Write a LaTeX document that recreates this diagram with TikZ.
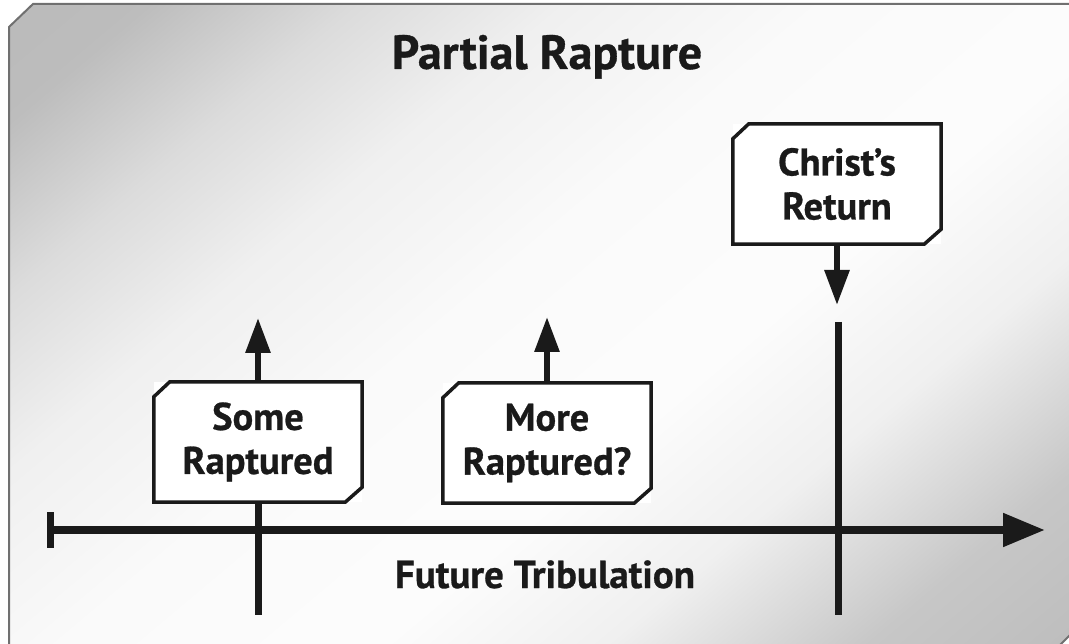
\documentclass[tikz,border=0pt]{standalone}
\usepackage{fontspec}
\setmainfont{PT Sans}[BoldFeatures={FakeBold=0.7}]
\usetikzlibrary{arrows.meta}
\definecolor{ink}{HTML}{1A1A1A}
\definecolor{framec}{HTML}{707070}
\pgfdeclarehorizontalshading{metal}{100bp}{color(0bp)=(black!30); color(20bp)=(black!26); color(28bp)=(black!14); color(36bp)=(black!6); color(46bp)=(black!2); color(58bp)=(black!1); color(67bp)=(black!6); color(77bp)=(black!22); color(100bp)=(black!33)}
\tikzset{
  boxnode/.style={minimum width=208pt, minimum height=120pt, inner sep=0pt, align=center, fill=white,
    font=\bfseries\fontsize{38.5}{44}\selectfont, text=ink},
  boxline/.style={draw=ink, line width=3.5pt, line join=miter},
  timeline/.style={draw=ink, line width=8pt, -{Triangle[length=42pt,width=32pt]}},
  vline/.style={draw=ink, line width=7pt},
  smallarrow/.style={draw=ink, line width=6pt, -{Triangle[length=35pt,width=24pt]}},
  titlestyle/.style={font=\bfseries\fontsize{48}{54}\selectfont, text=ink, anchor=base, inner sep=0pt},
  labelstyle/.style={font=\bfseries\fontsize{39}{45}\selectfont, text=ink, anchor=base, inner sep=0pt}
}
\newcommand\cutbox[1]{\draw[boxline] ([yshift=-15pt]#1.north west) -- ([xshift=16pt]#1.north west) -- (#1.north east) -- ([yshift=15pt]#1.south east) -- ([xshift=-17pt]#1.south east) -- (#1.south west) -- cycle;}
\begin{document}
\begin{tikzpicture}[x=1pt,y=-1pt]
\useasboundingbox (0,0) rectangle (1069,644);
% background panel
\path[shading=metal, shading angle=-50, draw=framec, line width=2pt]
  (9,27) -- (33,4) -- (1083,4) -- (1083,622) -- (1059,646) -- (9,646) -- cycle;
% title
\node[titlestyle] (title) at (547,69) {Partial Rapture};
% coordinates
\coordinate (tl) at (50,530);
\coordinate (tr) at (1045,530);
\coordinate (tickA) at (50,512);
\coordinate (tickB) at (50,548);
\coordinate (v1b) at (258,615);
\coordinate (u1) at (258,318);
\coordinate (u2) at (547,317);
\coordinate (d3) at (837,305);
\coordinate (v2t) at (838,322);
\coordinate (v2b) at (838,615);
% boxes
\node[boxnode] (b1) at (258,442) {Some\\Raptured};
\node[boxnode] (b2) at (547,443) {More\\Raptured?};
\node[boxnode] (b3) at (837,184) {Christ’s\\Return};
% lines
\draw[timeline] (tl) -- (tr);
\draw[vline] (tickA) -- (tickB);
\draw[vline] (b1.south) -- (v1b);
\draw[vline] (v2t) -- (v2b);
\draw[smallarrow] (b1.north) -- (u1);
\draw[smallarrow] (b2.north) -- (u2);
\draw[smallarrow] (b3.south) -- (d3);
\cutbox{b1}
\cutbox{b2}
\cutbox{b3}
\node[labelstyle] (ft) at (545,588) {Future Tribulation};
\end{tikzpicture}
\end{document}
